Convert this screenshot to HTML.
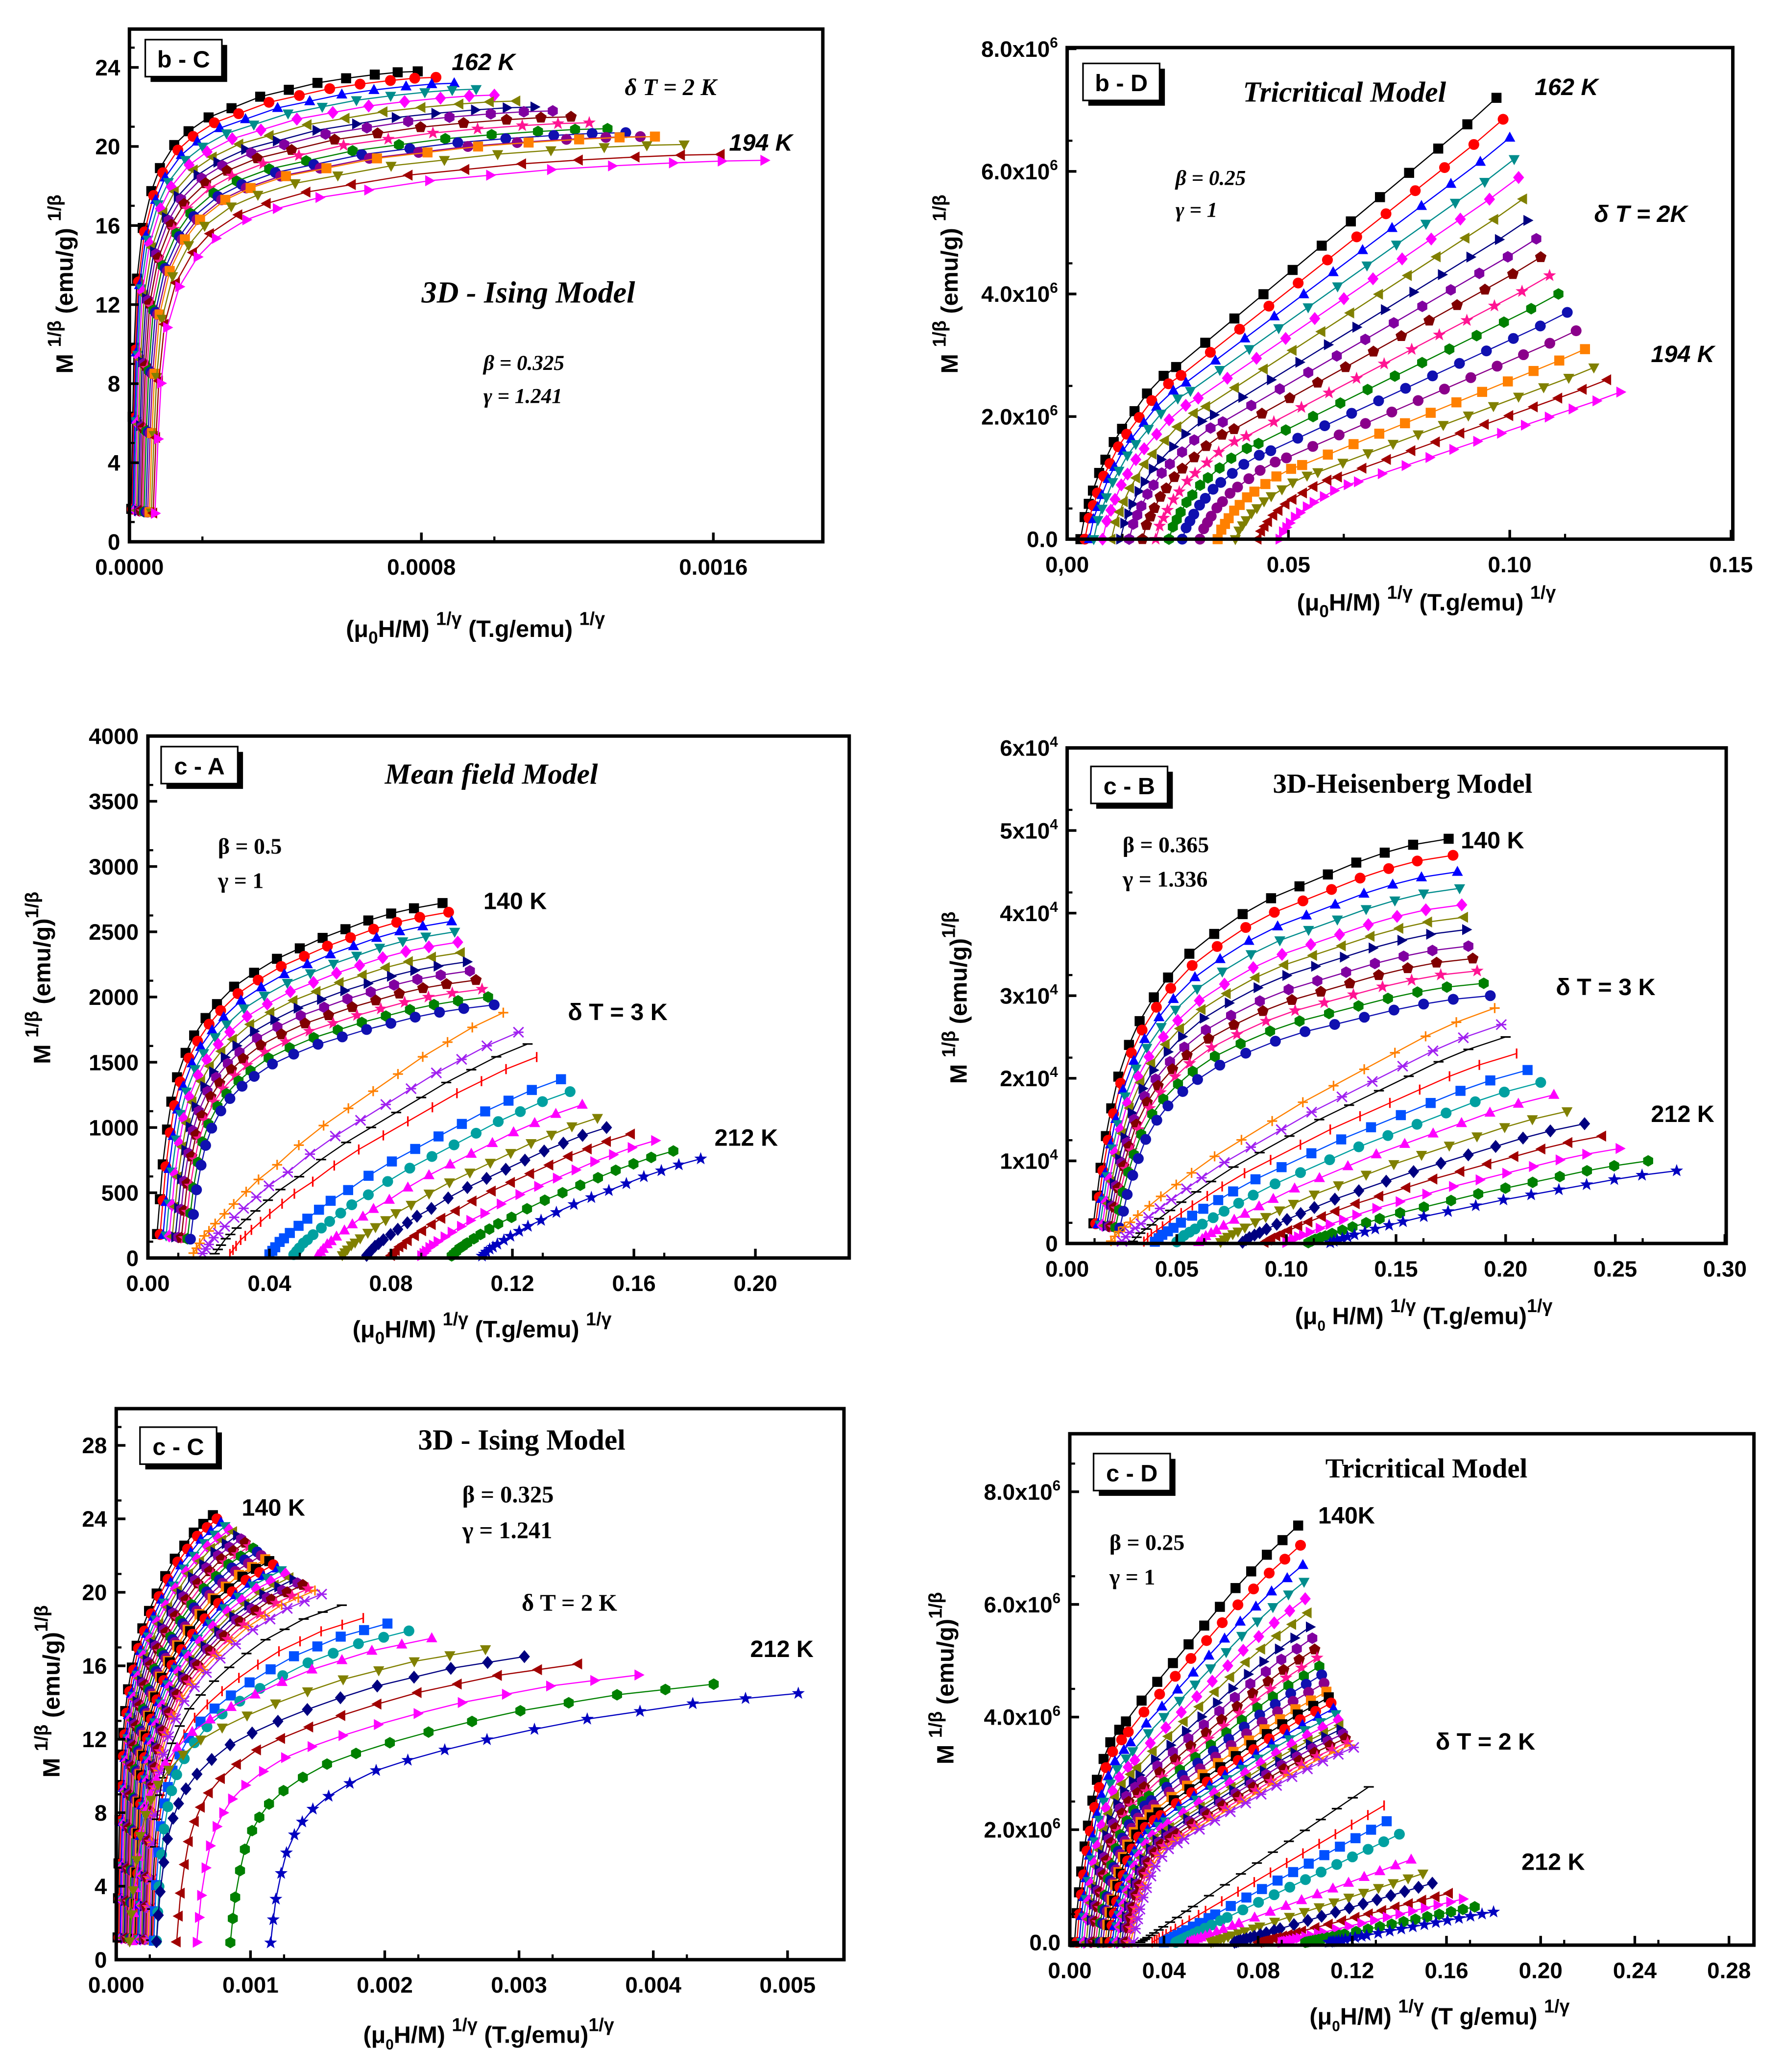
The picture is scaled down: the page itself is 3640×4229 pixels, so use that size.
<!DOCTYPE html>
<html><head><meta charset="utf-8">
<style>
html,body{margin:0;padding:0;background:#fff;}
svg{display:block;}
.tk{font-family:"Liberation Sans",Arial,sans-serif;font-weight:bold;font-size:17px;fill:#000;}
.lbl{font-family:"Liberation Sans",Arial,sans-serif;font-weight:bold;font-size:18px;fill:#000;}
.ser{font-family:"Liberation Serif","Times New Roman",serif;font-weight:bold;fill:#000;}
.it{font-style:italic;}
</style></head>
<body>
<svg id="fig" xmlns="http://www.w3.org/2000/svg" width="3640" height="4229" viewBox="0 0 1350 1568" preserveAspectRatio="none">
<rect x="0" y="0" width="1350" height="1568" fill="#fff"/>
</svg>
<script>
// ===== data: panel b-C (3D Ising, 162K..194K) =====
const bC_temps=[162,164,166,168,170,172,174,176,178,180,182,184,186,188,190,192,194];
const bC_endX=[0.00079,0.00084,0.00089,0.00095,0.00100,0.00106,0.00111,0.00116,0.00121,0.00126,0.00131,0.00136,0.00140,0.00144,0.00152,0.00162,0.00174];
const bC_endY=[23.8,23.5,23.2,22.9,22.6,22.3,22.0,21.8,21.5,21.2,20.9,20.7,20.5,20.5,20.1,19.6,19.3];
const bC_startX=[0.000005,0.000008,0.00001,0.000013,0.000016,0.00002,0.000024,0.000028,0.000032,0.000036,0.00004,0.000045,0.00005,0.000055,0.00006,0.000065,0.00007];
const bC_shapeX=[0,0.005,0.01,0.02,0.04,0.07,0.1,0.15,0.2,0.27,0.35,0.45,0.55,0.65,0.75,0.85,0.93,1];
const bC_shapeY=[0.05,0.25,0.4,0.55,0.66,0.74,0.79,0.84,0.87,0.9,0.92,0.945,0.96,0.975,0.985,0.993,0.998,1];
// ===== data: panel b-D (tricritical) =====
const bD_endX=[0.097,0.0985,0.1,0.101,0.102,0.103,0.104,0.106,0.107,0.109,0.111,0.113,0.115,0.117,0.119,0.122,0.125];
const bD_endY=[7.2e6,6.85e6,6.55e6,6.2e6,5.9e6,5.55e6,5.2e6,4.9e6,4.6e6,4.3e6,4.0e6,3.7e6,3.4e6,3.1e6,2.8e6,2.6e6,2.4e6];
const bD_startX=[0.003,0.004,0.005,0.006,0.008,0.01,0.012,0.014,0.017,0.02,0.023,0.026,0.03,0.034,0.038,0.043,0.048];
const bD_shapeX=[0,0.01,0.02,0.03,0.045,0.06,0.08,0.1,0.13,0.16,0.2,0.23,0.3,0.37,0.44,0.51,0.58,0.65,0.72,0.79,0.86,0.93,1];
const bD_shapeY=[0,0.05,0.08,0.11,0.15,0.18,0.22,0.25,0.29,0.33,0.37,0.39,0.445,0.5,0.555,0.61,0.665,0.72,0.775,0.83,0.885,0.94,1];
// ===== data: panel c-A (mean field, 140K..212K) =====
const cA_endX=[0.097,0.099,0.1,0.101,0.102,0.103,0.105,0.106,0.108,0.11,0.112,0.114,0.117,0.122,0.125,0.128,0.136,0.139,0.143,0.148,0.151,0.159,0.167,0.173,0.182];
const cA_endY=[2720,2650,2580,2500,2420,2340,2270,2200,2130,2060,2000,1940,1880,1730,1640,1540,1370,1275,1175,1073,1000,950,900,820,760];
const cA_startX=[0.003,0.004,0.005,0.006,0.007,0.008,0.009,0.01,0.011,0.012,0.013,0.014,0.015,0.018,0.022,0.027,0.04,0.048,0.056,0.064,0.072,0.08,0.09,0.1,0.11];
const cA_shapeX=[0,0.01,0.02,0.035,0.05,0.07,0.1,0.13,0.17,0.21,0.27,0.34,0.42,0.5,0.58,0.66,0.74,0.82,0.9,1];
const cA_shapeY=[0.05,0.15,0.25,0.35,0.43,0.5,0.57,0.62,0.67,0.71,0.76,0.8,0.84,0.87,0.9,0.925,0.95,0.97,0.985,1];
const cA_hotShapeY=[0.02,0.04,0.06,0.09,0.11,0.14,0.18,0.22,0.27,0.32,0.38,0.46,0.54,0.61,0.68,0.75,0.82,0.88,0.94,1];
// ===== data: panel c-B (3D Heisenberg) =====
const cB_endX=[0.174,0.176,0.178,0.179,0.18,0.181,0.182,0.183,0.185,0.187,0.19,0.193,0.195,0.198,0.2,0.205,0.21,0.216,0.222,0.228,0.236,0.244,0.252,0.265,0.278];
const cB_endY=[4.9e4,4.7e4,4.5e4,4.3e4,4.1e4,3.95e4,3.8e4,3.6e4,3.45e4,3.3e4,3.15e4,3.0e4,2.85e4,2.65e4,2.5e4,2.3e4,2.1e4,1.95e4,1.8e4,1.6e4,1.45e4,1.3e4,1.15e4,1.0e4,0.88e4];
const cB_startX=[0.012,0.013,0.014,0.015,0.016,0.017,0.018,0.019,0.02,0.021,0.022,0.024,0.02,0.025,0.03,0.035,0.04,0.05,0.06,0.07,0.08,0.09,0.1,0.11,0.12];
const cB_shapeX=[0,0.01,0.02,0.035,0.05,0.07,0.1,0.13,0.17,0.21,0.27,0.34,0.42,0.5,0.58,0.66,0.74,0.82,0.9,1];
const cB_shapeY=[0.03,0.1,0.17,0.25,0.32,0.4,0.48,0.54,0.6,0.65,0.71,0.76,0.81,0.85,0.88,0.91,0.94,0.965,0.985,1];
const cB_hotShapeY=[0.01,0.03,0.05,0.07,0.09,0.12,0.16,0.2,0.25,0.3,0.37,0.44,0.52,0.6,0.67,0.74,0.81,0.88,0.94,1];
// ===== data: panel c-C (3D Ising) =====
const cC_endX=[0.00072,0.00075,0.00078,0.00081,0.00084,0.00087,0.0009,0.00093,0.00096,0.00099,0.00102,0.00105,0.00108,0.00111,0.00114,0.00117,0.0012,0.00123,0.00126,0.00129,0.00132,0.00135,0.00139,0.00143,0.00148,0.00153,0.00168,0.00184,0.00202,0.00218,0.00235,0.00275,0.00304,0.00344,0.00389,0.00445,0.00508];
const cC_endY=[24.2,24.0,23.8,23.6,23.4,23.3,23.1,22.9,22.7,22.5,22.4,22.2,22.0,21.8,21.7,21.5,21.3,21.2,21.0,20.8,20.7,20.5,20.4,20.2,20.1,19.9,19.3,18.6,18.3,17.9,17.5,16.9,16.5,16.1,15.5,15.0,14.5];
const cC_startX=[0.00001,0.00002,0.00003,0.00004,0.00004,0.00005,0.00006,0.00007,0.00008,0.00009,0.0001,0.00011,0.00012,0.00013,0.00014,0.00015,0.00016,0.00017,0.00018,0.00019,0.0002,0.00021,0.00022,0.00023,0.00024,0.00025,0.00026,0.00027,0.00028,0.0003,0.00012,0.0001,0.0003,0.00045,0.0006,0.00085,0.00115];
const cC_shapeX=[0,0.005,0.01,0.02,0.03,0.045,0.06,0.08,0.11,0.15,0.2,0.26,0.33,0.41,0.5,0.6,0.7,0.8,0.9,1];
const cC_shapeY=[0.03,0.12,0.2,0.3,0.38,0.45,0.5,0.55,0.6,0.65,0.7,0.74,0.78,0.82,0.86,0.9,0.93,0.96,0.98,1];
// ===== data: panel c-D (tricritical) =====
const cD_endX=[0.097,0.098,0.099,0.0995,0.1,0.101,0.102,0.103,0.104,0.105,0.106,0.107,0.108,0.109,0.11,0.111,0.112,0.113,0.114,0.1145,0.115,0.116,0.117,0.118,0.119,0.1206,0.127,0.1335,0.1346,0.14,0.145,0.15,0.154,0.161,0.167,0.172,0.18];
const cD_endY=[7.4e6,7.05e6,6.7e6,6.4e6,6.1e6,5.85e6,5.6e6,5.4e6,5.2e6,5.05e6,4.9e6,4.75e6,4.6e6,4.45e6,4.35e6,4.25e6,4.15e6,4.05e6,3.95e6,3.85e6,3.78e6,3.7e6,3.62e6,3.55e6,3.5e6,3.46e6,2.76e6,2.43e6,2.15e6,1.92e6,1.47e6,1.22e6,1.05e6,0.87e6,0.77e6,0.63e6,0.54e6];
const cD_startX=[0.002,0.003,0.004,0.005,0.006,0.007,0.008,0.009,0.01,0.011,0.012,0.013,0.014,0.015,0.016,0.017,0.018,0.019,0.02,0.021,0.022,0.023,0.024,0.025,0.026,0.027,0.03,0.035,0.04,0.045,0.05,0.06,0.07,0.08,0.09,0.1,0.11];
const cD_shapeX=[0,0.01,0.02,0.03,0.045,0.06,0.08,0.1,0.13,0.16,0.2,0.23,0.3,0.37,0.44,0.51,0.58,0.65,0.72,0.79,0.86,0.93,1];
const cD_shapeY=[0,0.07,0.12,0.17,0.23,0.28,0.34,0.39,0.44,0.48,0.51,0.53,0.58,0.625,0.67,0.715,0.76,0.805,0.85,0.89,0.93,0.965,1];
const cD_hotShapeY=[0,0.01,0.02,0.03,0.045,0.06,0.08,0.1,0.13,0.16,0.2,0.23,0.3,0.37,0.44,0.51,0.58,0.65,0.72,0.79,0.86,0.93,1];

// marker styles (Origin default cycle)
const mShapes=['sq','ci','tu','td','di','tl','tr','hx','pe','st','hx','ci','ci','sq','pl','xx','da','ba','sq','ci','tu','td','di','tl','tr','hx','st'];
const mColors=['#000000','#ff0000','#0000ff','#008c8c','#ff00ff','#808000','#000080','#8000a0','#800000','#ff1493','#008000','#1010b0','#8a008a','#ff8000','#ff8000','#a020f0','#000000','#ff0000','#0050ff','#00a0a0','#ff00ff','#808000','#000080','#a00000','#ff00ff','#008000','#0000c0'];

const NS='http://www.w3.org/2000/svg';
const svg=document.getElementById('fig');
function el(tag,attrs,parent){const e=document.createElementNS(NS,tag);for(const k in attrs)e.setAttribute(k,attrs[k]);(parent||svg).appendChild(e);return e;}
function txt(parent,x,y,str,cls,anchor,size){const t=el('text',{x:x,y:y,class:cls,'text-anchor':anchor||'start'},parent);if(size)t.setAttribute('font-size',size);t.textContent=str;return t;}

function marker(g,shape,color,x,y){
  const r=3.8;let m;
  if(shape==='sq'){m=el('rect',{x:x-r,y:y-r,width:2*r,height:2*r,fill:color},g);}
  else if(shape==='ci'){m=el('circle',{cx:x,cy:y,r:r+0.3,fill:color},g);}
  else if(['tu','td','tl','tr','di','hx','pe','st'].includes(shape)){
    let pts=[];
    if(shape==='tu')pts=[[0,-r*1.2],[r*1.1,r*0.8],[-r*1.1,r*0.8]];
    if(shape==='td')pts=[[0,r*1.2],[r*1.1,-r*0.8],[-r*1.1,-r*0.8]];
    if(shape==='tl')pts=[[-r*1.2,0],[r*0.8,r*1.1],[r*0.8,-r*1.1]];
    if(shape==='tr')pts=[[r*1.2,0],[-r*0.8,r*1.1],[-r*0.8,-r*1.1]];
    if(shape==='di')pts=[[0,-r*1.3],[r*1.1,0],[0,r*1.3],[-r*1.1,0]];
    if(shape==='hx'){for(let i=0;i<6;i++){const a=Math.PI/3*i+Math.PI/6;pts.push([r*1.15*Math.cos(a),r*1.15*Math.sin(a)]);}}
    if(shape==='pe'){for(let i=0;i<5;i++){const a=-Math.PI/2+2*Math.PI/5*i;pts.push([r*1.2*Math.cos(a),r*1.2*Math.sin(a)]);}}
    if(shape==='st'){for(let i=0;i<10;i++){const a=-Math.PI/2+Math.PI/5*i;const rr=i%2?r*0.55:r*1.35;pts.push([rr*Math.cos(a),rr*Math.sin(a)]);}}
    m=el('polygon',{points:pts.map(p=>(x+p[0]).toFixed(2)+','+(y+p[1]).toFixed(2)).join(' '),fill:color},g);
  } else if(shape==='pl'){m=el('path',{d:`M${x-r} ${y}H${x+r}M${x} ${y-r}V${y+r}`,stroke:color,'stroke-width':1.2,fill:'none'},g);}
  else if(shape==='xx'){m=el('path',{d:`M${x-r} ${y-r}L${x+r} ${y+r}M${x-r} ${y+r}L${x+r} ${y-r}M${x-r} ${y}H${x+r}`,stroke:color,'stroke-width':1.1,fill:'none'},g);}
  else if(shape==='da'){m=el('path',{d:`M${x-r} ${y}H${x+r}`,stroke:color,'stroke-width':1.2},g);}
  else {m=el('path',{d:`M${x} ${y-r}V${y+r}`,stroke:color,'stroke-width':1.2},g);}
  
  
}

function sup(t,base,s){const a=document.createElementNS(NS,'tspan');a.textContent=base;t.appendChild(a);const b=document.createElementNS(NS,'tspan');b.setAttribute('dy','-7');b.setAttribute('font-size','11');b.textContent=s;t.appendChild(b);}

function panel(p){
  const g=el('g',{});
  
  
  const sx=v=>p.x0+(v-p.xmin)/(p.xmax-p.xmin)*(p.x1-p.x0);
  const sy=v=>p.y1-(v-p.ymin)/(p.ymax-p.ymin)*(p.y1-p.y0);
  const cg=el('g',{},g);
  
  
  for(let i=0;i<p.endX.length;i++){
    const si=p.styles[i%p.styles.length];
    const col=mColors[si],shp=mShapes[si];
    const hot=p.hotShapeY&&i>=p.hotFrom;
    const shY=hot?p.hotShapeY:p.shapeY;
    const y0=hot?0:p.startY;
    const pts=p.shapeX.map((f,k)=>[sx(p.startX[i]+f*(p.endX[i]-p.startX[i])),sy(y0+shY[k]*(p.endY[i]-y0))]);
    const line=el('polyline',{points:pts.map(q=>q[0].toFixed(2)+','+q[1].toFixed(2)).join(' '),fill:'none',stroke:col,'stroke-width':0.9},cg);
    
    
    pts.forEach(q=>marker(cg,shp,col,q[0],q[1]));
  }
  const fr=el('rect',{x:p.x0,y:p.y0,width:p.x1-p.x0,height:p.y1-p.y0,fill:'none',stroke:'#000','stroke-width':2.6},g);
  
  
  p.xticks.forEach((v,i)=>{
    const X=sx(v);
    el('line',{x1:X,x2:X,y1:p.y1,y2:p.y1-7,stroke:'#000','stroke-width':2},g);
    if(i<p.xticks.length-1){const Xm=sx(v+p.xstep/2);if(Xm<p.x1-2)el('line',{x1:Xm,x2:Xm,y1:p.y1,y2:p.y1-4,stroke:'#000','stroke-width':1.6},g);}
    const t=txt(g,X,p.y1+25,p.xlabels[i],'tk','middle');
    
    
  });
  p.yticks.forEach((v,i)=>{
    const Y=sy(v);
    el('line',{x1:p.x0,x2:p.x0+7,y1:Y,y2:Y,stroke:'#000','stroke-width':2},g);
    const Ym=sy(v+p.ystep/2);if(Ym>p.y0+2)el('line',{x1:p.x0,x2:p.x0+4,y1:Ym,y2:Ym,stroke:'#000','stroke-width':1.6},g);
    const t=el('text',{x:p.x0-7,y:Y+6,class:'tk','text-anchor':'end'},g);
    if(p.ysup&&p.ysup[i]){sup(t,p.ylabels[i],p.ysup[i]);}else t.textContent=p.ylabels[i];
    
    
  });
  const tg=el('g',{},g);
  
  
  el('rect',{x:p.tag[0]+4,y:p.tag[1]+4,width:58,height:28,fill:'#000'},tg);
  el('rect',{x:p.tag[0],y:p.tag[1],width:58,height:28,fill:'#fff',stroke:'#000','stroke-width':1.2},tg);
  txt(tg,p.tag[0]+29,p.tag[1]+21,p.tagText,'lbl','middle',17);
  const xt=el('text',{x:p.xt[0],y:p.xt[1],class:'lbl','text-anchor':'middle'},g);
  xt.innerHTML=p.xtitle;
  
  
  const yt=el('text',{x:0,y:0,class:'lbl','text-anchor':'middle',transform:`translate(${p.yt[0]},${p.yt[1]}) rotate(-90)`},g);
  yt.innerHTML=p.ytitle;
  
  
  p.notes.forEach(n=>{const t=txt(g,n[0],n[1],n[2],n[3],n[5]||'start',n[4]);});
}

const s17=[0,1,2,3,4,5,6,7,8,9,10,11,12,13,21,23,24];
const s25=[0,1,2,3,4,5,6,7,8,9,10,11,14,15,16,17,18,19,20,21,22,23,24,25,26];
const s37=[0,1,2,3,4,5,6,7,8,9,10,11,12,13,0,1,2,3,4,5,6,7,8,9,14,15,16,17,18,19,20,21,22,23,24,25,26];
const XT1='(μ<tspan dy="5" font-size="13">0</tspan><tspan dy="-5">H/M) </tspan><tspan dy="-9" font-size="14">1/γ</tspan><tspan dy="9"> (T.g/emu) </tspan><tspan dy="-9" font-size="14">1/γ</tspan>';
const YT1='M <tspan dy="-9" font-size="14">1/β</tspan><tspan dy="9"> (emu/g) </tspan><tspan dy="-9" font-size="14">1/β</tspan>';
const YT2='M <tspan dy="-9" font-size="14">1/β</tspan><tspan dy="9"> (emu/g)</tspan><tspan dy="-9" font-size="14">1/β</tspan>';

panel({name:'panel-b-C',x0:98,x1:623,y0:22,y1:410,xmin:0,xmax:0.0019,ymin:0,ymax:25.94,
  endX:bC_endX,endY:bC_endY,startX:bC_startX,startY:0.5,shapeX:bC_shapeX,shapeY:bC_shapeY,styles:s17,
  xticks:[0,0.0008,0.0016],xstep:0.0004,xlabels:['0.0000','0.0008','0.0016'],
  yticks:[0,4,8,12,16,20,24],ystep:2,ylabels:['0','4','8','12','16','20','24'],
  tag:[110,30],tagText:'b - C',xt:[360,482],xtitle:XT1,yt:[55,215],ytitle:YT1,
  notes:[[342,53,'162 K','lbl it',18],[473,72,'δ T = 2 K','ser it',18],[552,114,'194 K','lbl it',18],[400,229,'3D - Ising Model','ser it',23,'middle'],[366,280,'β = 0.325','ser it',16],[366,305,'γ = 1.241','ser it',16]]});

panel({name:'panel-b-D',x0:808,x1:1312,y0:36,y1:408,xmin:0,xmax:0.1504,ymin:0,ymax:8.02e6,
  endX:bD_endX,endY:bD_endY,startX:bD_startX,startY:0,shapeX:bD_shapeX,shapeY:bD_shapeY,styles:s17,
  xticks:[0,0.05,0.1,0.15],xstep:0.025,xlabels:['0,00','0.05','0.10','0.15'],
  yticks:[0,2e6,4e6,6e6,8e6],ystep:1e6,ylabels:['0.0','2.0x10','4.0x10','6.0x10','8.0x10'],ysup:[null,'6','6','6','6'],
  tag:[820,48],tagText:'b - D',xt:[1080,462],xtitle:XT1,yt:[725,215],ytitle:YT1,
  notes:[[1018,77,'Tricritical Model','ser it',22,'middle'],[1162,72,'162 K','lbl it',18],[890,140,'β = 0.25','ser it',16],[890,164,'γ = 1','ser it',16],[1207,168,'δ T = 2K','lbl it',19],[1250,274,'194 K','lbl it',18]]});

panel({name:'panel-c-A',x0:112,x1:643,y0:557,y1:952,xmin:0,xmax:0.2309,ymin:0,ymax:4000,
  endX:cA_endX,endY:cA_endY,startX:cA_startX,startY:50,shapeX:cA_shapeX,shapeY:cA_shapeY,hotShapeY:cA_hotShapeY,hotFrom:12,styles:s25,
  xticks:[0,0.04,0.08,0.12,0.16,0.2],xstep:0.02,xlabels:['0.00','0.04','0.08','0.12','0.16','0.20'],
  yticks:[0,500,1000,1500,2000,2500,3000,3500,4000],ystep:250,ylabels:['0','500','1000','1500','2000','2500','3000','3500','4000'],
  tag:[122,565],tagText:'c - A',xt:[365,1012],xtitle:XT1,yt:[38,740],ytitle:YT2,
  notes:[[372,593,'Mean field Model','ser it',22,'middle'],[165,646,'β = 0.5','ser',17],[165,672,'γ = 1','ser',17],[366,688,'140 K','lbl',18],[430,772,'δ T = 3 K','lbl',18],[541,867,'212 K','lbl',18]]});

panel({name:'panel-c-B',x0:808,x1:1307,y0:566,y1:941,xmin:0,xmax:0.3006,ymin:0,ymax:6e4,
  endX:cB_endX,endY:cB_endY,startX:cB_startX,startY:1000,shapeX:cB_shapeX,shapeY:cB_shapeY,hotShapeY:cB_hotShapeY,hotFrom:12,styles:s25,
  xticks:[0,0.05,0.1,0.15,0.2,0.25,0.3],xstep:0.025,xlabels:['0.00','0.05','0.10','0.15','0.20','0.25','0.30'],
  yticks:[0,1e4,2e4,3e4,4e4,5e4,6e4],ystep:5e3,ylabels:['0','1x10','2x10','3x10','4x10','5x10','6x10'],ysup:[null,'4','4','4','4','4','4'],
  tag:[826,580],tagText:'c - B',xt:[1078,1002],xtitle:'(μ<tspan dy="5" font-size="11">0</tspan><tspan dy="-5"> H/M) </tspan><tspan dy="-9" font-size="14">1/γ</tspan><tspan dy="9"> (T.g/emu)</tspan><tspan dy="-9" font-size="14">1/γ</tspan>',yt:[732,755],ytitle:YT2,
  notes:[[1062,600,'3D-Heisenberg Model','ser',21,'middle'],[850,645,'β = 0.365','ser',17],[850,671,'γ = 1.336','ser',17],[1106,642,'140 K','lbl',18],[1178,753,'δ T = 3 K','lbl',18],[1250,849,'212 K','lbl',18]]});

panel({name:'panel-c-C',x0:88,x1:639,y0:1066,y1:1483,xmin:0,xmax:0.00542,ymin:0,ymax:30,
  endX:cC_endX,endY:cC_endY,startX:cC_startX,startY:0.5,shapeX:cC_shapeX,shapeY:cC_shapeY,styles:s37,
  xticks:[0,0.001,0.002,0.003,0.004,0.005],xstep:0.0005,xlabels:['0.000','0.001','0.002','0.003','0.004','0.005'],
  yticks:[0,4,8,12,16,20,24,28],ystep:2,ylabels:['0','4','8','12','16','20','24','28'],
  tag:[106,1080],tagText:'c - C',xt:[370,1546],xtitle:'(μ<tspan dy="5" font-size="11">0</tspan><tspan dy="-5">H/M) </tspan><tspan dy="-9" font-size="14">1/γ</tspan><tspan dy="9"> (T.g/emu)</tspan><tspan dy="-9" font-size="14">1/γ</tspan>',yt:[45,1280],ytitle:YT2,
  notes:[[395,1097,'3D - Ising Model','ser',22,'middle'],[350,1137,'β = 0.325','ser',18],[350,1164,'γ = 1.241','ser',18],[183,1147,'140 K','lbl',18],[395,1219,'δ T = 2 K','ser',18],[568,1254,'212 K','lbl',18]]});

panel({name:'panel-c-D',x0:810,x1:1328,y0:1085,y1:1472,xmin:0,xmax:0.2906,ymin:-0.05e6,ymax:9.03e6,
  endX:cD_endX,endY:cD_endY,startX:cD_startX,startY:0,shapeX:cD_shapeX,shapeY:cD_shapeY,hotShapeY:cD_hotShapeY,hotFrom:26,styles:s37,
  xticks:[0,0.04,0.08,0.12,0.16,0.2,0.24,0.28],xstep:0.02,xlabels:['0.00','0.04','0.08','0.12','0.16','0.20','0.24','0.28'],
  yticks:[0,2e6,4e6,6e6,8e6],ystep:1e6,ylabels:['0.0','2.0x10','4.0x10','6.0x10','8.0x10'],ysup:[null,'6','6','6','6'],
  tag:[828,1100],tagText:'c - D',xt:[1090,1532],xtitle:'(μ<tspan dy="5" font-size="11">0</tspan><tspan dy="-5">H/M) </tspan><tspan dy="-9" font-size="14">1/γ</tspan><tspan dy="9"> (T g/emu) </tspan><tspan dy="-9" font-size="14">1/γ</tspan>',yt:[722,1270],ytitle:YT2,
  notes:[[1080,1118,'Tricritical Model','ser',21,'middle'],[840,1173,'β = 0.25','ser',17],[840,1199,'γ = 1','ser',17],[998,1153,'140K','lbl',18],[1087,1324,'δ T = 2 K','lbl',18],[1152,1415,'212 K','lbl',18]]});
</script>
</body></html>
